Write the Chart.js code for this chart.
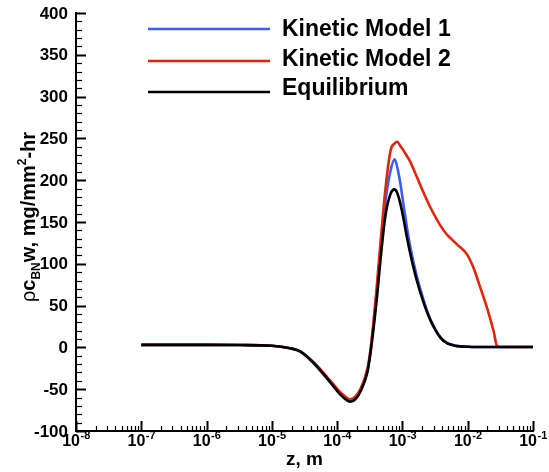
<!DOCTYPE html>
<html>
<head>
<meta charset="utf-8">
<script src="https://cdn.jsdelivr.net/npm/chart.js@4.4.1/dist/chart.umd.min.js"></script>
<style>
  body { margin: 0; background: #fff; }
  #wrap { width: 549px; height: 472px; }
</style>
</head>
<body>
<div id="wrap"><canvas id="myChart" width="549" height="472"></canvas></div>
<script>
// z positions (m) shared by all three curves
var zVals = [1e-7, 1e-6, 3.3e-6, 1e-5, 1.9e-5, 2.75e-5, 4.4e-5, 7.9e-5, 1.1e-4, 1.45e-4,
	1.6e-4, 1.9e-4, 2.3e-4, 2.9e-4, 3.2e-4, 3.6e-4, 4.1e-4, 4.6e-4, 5.5e-4, 6.6e-4,
	7.6e-4, 8.3e-4, 9.3e-4, 1.05e-3, 1.17e-3, 1.32e-3, 1.66e-3, 2.14e-3, 2.7e-3, 3.8e-3,
	4.8e-3, 5.4e-3, 6.9e-3, 9.8e-3, 1.23e-2, 1.55e-2, 2e-2, 2.5e-2, 2.8e-2, 3.2e-2, 1e-1];

var kinetic1 = [3, 3, 2.8, 2, -1, -5, -19, -42, -55, -63,
	-64, -61, -51, -28, -8, 26, 70, 116, 175, 212,
	225, 216, 196, 168, 144, 120, 85, 55, 33, 12,
	5.5, 4, 1.5, 0.8, 0.5, 0.5, 0.5, 0.5, 0.5, 0.5, 0.5];

var kinetic2 = [3, 3, 2.8, 2, -1, -5, -18, -40, -53, -61,
	-62, -59, -49, -26, -6, 30, 78, 124, 190, 236,
	244, 246, 241, 235, 229, 222, 204, 184, 167, 146,
	135, 131, 123, 111, 95, 72, 46, 19, 2, 0.5, 0.5];

var equilibrium = [3, 3, 2.8, 2, -1, -5, -19, -42, -56, -64,
	-65, -62, -52, -30, -10, 22, 62, 104, 158, 184,
	189, 185, 172, 152, 132, 112, 80, 52, 32, 12,
	5, 3.5, 1.5, 0.8, 0.5, 0.5, 0.5, 0.5, 0.5, 0.5, 0.5];

var seriesNames = ["Kinetic Model 1", "Kinetic Model 2", "Equilibrium"];
var seriesColors = ["#3d5cf2", "#e0250c", "#000000"];
var yTicks = [-100, -50, 0, 50, 100, 150, 200, 250, 300, 350, 400];
var xDecades = [-8, -7, -6, -5, -4, -3, -2, -1];

var FONT = '"Liberation Sans", Arial, Helvetica, sans-serif';

function pts(vals) {
	return zVals.map(function(z, i){ return {x: z, y: vals[i]}; });
}

function line(name, vals, color, order) {
	return {
		label: name,
		data: pts(vals),
		borderColor: color,
		backgroundColor: color,
		borderWidth: 2.6,
		showLine: true,
		pointRadius: 0,
		cubicInterpolationMode: 'monotone',
		order: order
	};
}

// ticks, labels, titles and legend drawn by hand (Tecplot look)
var decor = {
	id: 'decor',
	afterDraw: function(chart) {
		var ctx = chart.ctx;
		var xs = chart.scales.x, ys = chart.scales.y;
		var area = chart.chartArea;
		ctx.save();
		ctx.strokeStyle = '#000';
		ctx.fillStyle = '#000';

		// y ticks
		for (var v = -100; v <= 400; v += 10) {
			var py = Math.round(ys.getPixelForValue(v)) + 0.5;
			var major = (v % 50 === 0);
			ctx.lineWidth = major ? 2 : 1.2;
			ctx.beginPath();
			ctx.moveTo(area.left, py);
			ctx.lineTo(area.left + (major ? 10 : 6), py);
			ctx.stroke();
		}
		ctx.font = 'bold 17px ' + FONT;
		ctx.textAlign = 'right';
		ctx.textBaseline = 'middle';
		yTicks.forEach(function(t){
			ctx.fillText(String(t), area.left - 8, ys.getPixelForValue(t) + 1);
		});

		// x ticks
		xDecades.forEach(function(d){
			for (var m = 1; m <= 9; m++) {
				if (d === -1 && m > 1) break;
				var px = Math.round(xs.getPixelForValue(m * Math.pow(10, d))) + 0.5;
				var major = (m === 1);
				ctx.lineWidth = major ? 2 : 1.2;
				ctx.beginPath();
				ctx.moveTo(px, area.bottom);
				ctx.lineTo(px, area.bottom - (major ? 10 : 5));
				ctx.stroke();
			}
			// label 10^d
			var base = '10', sup = String(d);
			ctx.font = 'bold 16px ' + FONT;
			var wb = ctx.measureText(base).width;
			ctx.font = 'bold 11px ' + FONT;
			var ws = ctx.measureText(sup).width;
			var cx = xs.getPixelForValue(Math.pow(10, d));
			var x0 = cx - (wb + ws) / 2;
			ctx.textAlign = 'left';
			ctx.textBaseline = 'alphabetic';
			ctx.font = 'bold 16px ' + FONT;
			ctx.fillText(base, x0, 446);
			ctx.font = 'bold 11px ' + FONT;
			ctx.fillText(sup, x0 + wb + 0.5, 439);
		});

		// x title
		ctx.font = 'bold 19px ' + FONT;
		ctx.textAlign = 'center';
		ctx.textBaseline = 'alphabetic';
		ctx.fillText('z, m', (area.left + area.right) / 2, 465);

		// y title, rotated
		var parts = [
			{t: '\u03c1', f: '20px ' + FONT, dy: 0},
			{t: 'c', f: 'bold 20px ' + FONT, dy: 0},
			{t: 'BN', f: 'bold 12px ' + FONT, dy: 5},
			{t: 'w, mg/mm', f: 'bold 20px ' + FONT, dy: 0},
			{t: '2', f: 'bold 12px ' + FONT, dy: -9},
			{t: '-hr', f: 'bold 20px ' + FONT, dy: 0}
		];
		var total = 0;
		parts.forEach(function(p){ ctx.font = p.f; p.w = ctx.measureText(p.t).width; total += p.w; });
		ctx.translate(35, 217);
		ctx.rotate(-Math.PI / 2);
		ctx.textAlign = 'left';
		var xx = -total / 2;
		parts.forEach(function(p){
			ctx.font = p.f;
			ctx.fillText(p.t, xx, p.dy);
			xx += p.w;
		});
		ctx.setTransform(1, 0, 0, 1, 0, 0);

		// legend
		var lineY = [29, 61, 92], textY = [36, 66, 95];
		ctx.font = 'bold 23px ' + FONT;
		ctx.textAlign = 'left';
		seriesNames.forEach(function(n, i){
			ctx.strokeStyle = seriesColors[i];
			ctx.lineWidth = 2.5;
			ctx.beginPath();
			ctx.moveTo(148, lineY[i]);
			ctx.lineTo(270, lineY[i]);
			ctx.stroke();
			ctx.fillText(n, 282, textY[i]);
		});
		ctx.restore();
	}
};

var ctx = document.getElementById('myChart').getContext('2d');
var chart = new Chart(ctx, {
	type: 'scatter',
	data: {
		datasets: [
			line(seriesNames[0], kinetic1, seriesColors[0], 3),
			line(seriesNames[1], kinetic2, seriesColors[1], 2),
			line(seriesNames[2], equilibrium, seriesColors[2], 1)
		]
	},
	options: {
		responsive: false,
		animation: false,
		layout: { padding: { left: 76, right: 16, top: 13, bottom: 41 } },
		plugins: { legend: { display: false }, tooltip: { enabled: false } },
		scales: {
			x: {
				type: 'logarithmic',
				min: 1e-8, max: 1e-1,
				ticks: { display: false },
				grid: { display: false, drawTicks: false },
				border: { display: true, color: '#000', width: 2 }
			},
			y: {
				type: 'linear',
				min: -100, max: 400,
				ticks: { display: false, stepSize: 50 },
				grid: { display: false, drawTicks: false },
				border: { display: true, color: '#000', width: 2 }
			}
		}
	},
	plugins: [decor]
});
</script>
</body>
</html>
